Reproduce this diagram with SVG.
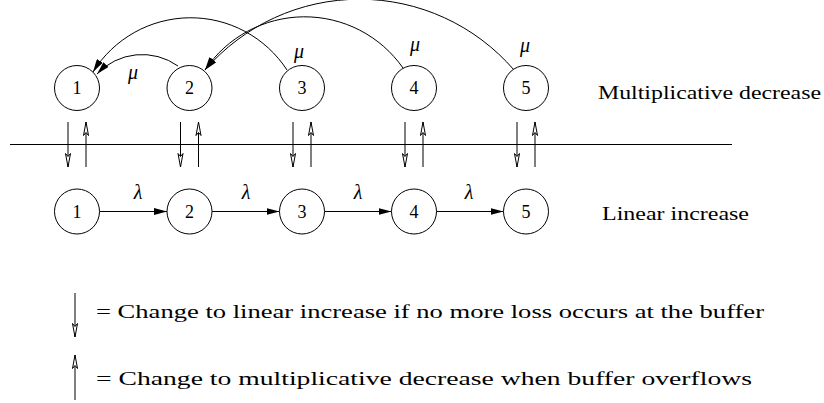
<svg xmlns="http://www.w3.org/2000/svg" width="824" height="403" viewBox="0 0 824 403">
<style>
.c{fill:#fff;stroke:#000;stroke-width:1}
.n{font-family:"Liberation Serif","DejaVu Serif",serif;font-size:18px;text-anchor:middle;fill:#000}
.g{font-family:"Liberation Serif","DejaVu Serif",serif;font-size:20px;font-style:italic;text-anchor:middle;fill:#000}
.t{font-family:"Liberation Serif","DejaVu Serif",serif;font-size:18px;fill:#000}
.l{fill:none;stroke:#000;stroke-width:1}
.af{marker-end:url(#fa)}
.ao{marker-end:url(#oa)}
</style>
<defs>
<marker id="fa" markerUnits="userSpaceOnUse" viewBox="0 0 13 7" refX="13" refY="3.5" markerWidth="13" markerHeight="7" orient="auto">
<path d="M0,0 L13,3.5 L0,7 Z" fill="#000"/>
</marker>
<marker id="oa" markerUnits="userSpaceOnUse" viewBox="-1 -1 16 9" refX="13.5" refY="3.5" markerWidth="16" markerHeight="9" orient="auto">
<path d="M0,1 L13.5,3.5 L0,6 L3,3.5 Z" fill="#fff" stroke="#000" stroke-width="1"/>
</marker>
</defs>

<g id="connectors">
<line class="l" x1="10" y1="144.5" x2="732" y2="144.5"/>
<path class="l af" d="M178,66 A62 62 0 0 0 97,74"/>
<path class="l af" d="M287,70 A115 115 0 0 0 93,72"/>
<path class="l af" d="M403,68 A120 120 0 0 0 205,70"/>
<path class="l af" d="M514,70 A204 204 0 0 0 205,70"/>
<line class="l af" x1="99.5" y1="211.5" x2="167" y2="211.5"/>
<line class="l af" x1="212" y1="211.5" x2="279.5" y2="211.5"/>
<line class="l af" x1="324.5" y1="211.5" x2="391.5" y2="211.5"/>
<line class="l af" x1="436.5" y1="211.5" x2="503.5" y2="211.5"/>
<line class="l ao" x1="68" y1="122" x2="68" y2="167"/>
<line class="l ao" x1="86" y1="167" x2="86" y2="122"/>
<line class="l ao" x1="180.5" y1="122" x2="180.5" y2="167"/>
<line class="l ao" x1="198.5" y1="167" x2="198.5" y2="122"/>
<line class="l ao" x1="293" y1="122" x2="293" y2="167"/>
<line class="l ao" x1="311" y1="167" x2="311" y2="122"/>
<line class="l ao" x1="405" y1="122" x2="405" y2="167"/>
<line class="l ao" x1="423" y1="167" x2="423" y2="122"/>
<line class="l ao" x1="517" y1="122" x2="517" y2="167"/>
<line class="l ao" x1="535" y1="167" x2="535" y2="122"/>
<line class="l ao" x1="75" y1="293" x2="75" y2="337"/>
<line class="l ao" x1="75" y1="400" x2="75" y2="355"/>
</g>

<g id="labels">
<text class="g" x="133" y="79">μ</text>
<text class="g" x="299" y="58">μ</text>
<text class="g" x="415" y="51">μ</text>
<text class="g" x="525" y="52">μ</text>
<text class="g" x="138" y="199">λ</text>
<text class="g" x="246" y="199">λ</text>
<text class="g" x="358" y="199">λ</text>
<text class="g" x="469" y="199">λ</text>
<text class="t" x="598" y="99" textLength="223" lengthAdjust="spacingAndGlyphs">Multiplicative decrease</text>
<text class="t" x="602" y="220" textLength="147" lengthAdjust="spacingAndGlyphs">Linear increase</text>
<text class="t" x="96" y="318" textLength="668" lengthAdjust="spacingAndGlyphs">= Change to linear increase if no more loss occurs at the buffer</text>
<text class="t" x="96" y="385" textLength="656" lengthAdjust="spacingAndGlyphs">= Change to multiplicative decrease when buffer overflows</text>
</g>

<g id="m1"><circle class="c" cx="77" cy="88" r="22.5"/><text class="n" x="77" y="94">1</text></g>
<g id="m2"><circle class="c" cx="189.5" cy="88" r="22.5"/><text class="n" x="189.5" y="94">2</text></g>
<g id="m3"><circle class="c" cx="302" cy="88" r="22.5"/><text class="n" x="302" y="94">3</text></g>
<g id="m4"><circle class="c" cx="414" cy="88" r="22.5"/><text class="n" x="414" y="94">4</text></g>
<g id="m5"><circle class="c" cx="526" cy="88" r="22.5"/><text class="n" x="526" y="94">5</text></g>

<g id="l1"><circle class="c" cx="77" cy="211.5" r="22.5"/><text class="n" x="77" y="217.5">1</text></g>
<g id="l2"><circle class="c" cx="189.5" cy="211.5" r="22.5"/><text class="n" x="189.5" y="217.5">2</text></g>
<g id="l3"><circle class="c" cx="302" cy="211.5" r="22.5"/><text class="n" x="302" y="217.5">3</text></g>
<g id="l4"><circle class="c" cx="414" cy="211.5" r="22.5"/><text class="n" x="414" y="217.5">4</text></g>
<g id="l5"><circle class="c" cx="526" cy="211.5" r="22.5"/><text class="n" x="526" y="217.5">5</text></g>
</svg>
